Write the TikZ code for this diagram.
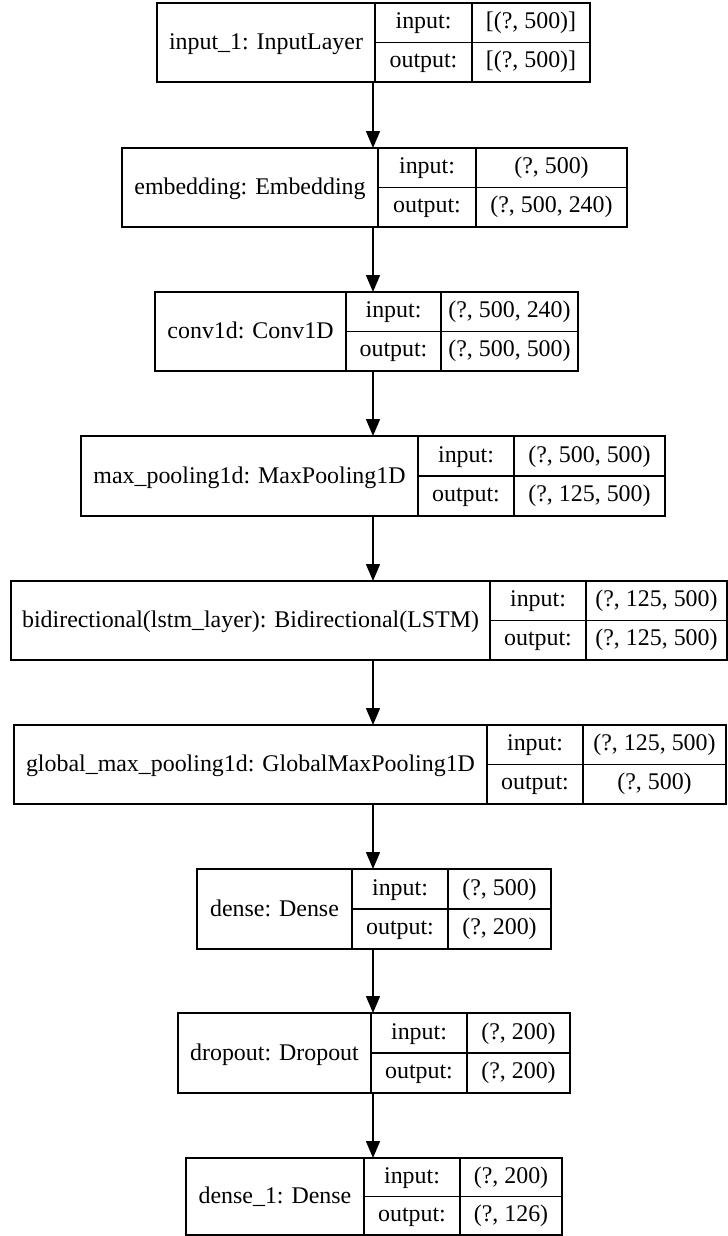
\documentclass[tikz,border=0pt]{standalone}
\usepackage{fontspec}
\setmainfont{Liberation Serif}
\usetikzlibrary{arrows.meta}
\newcommand\pickA[2]{#1}
\newcommand\pickB[2]{#2}
\tikzset{
  frame/.style={draw=black, line width=1.5bp},
  txt/.style={inner sep=0pt, anchor=base, font=\fontsize{24}{28}\selectfont},
  conn/.style={draw=black, line width=1.5bp, -{Triangle[width=14bp,length=17bp]}},
}
% id, left, div1, div2, right, top, bottom, name, {in}{out}
\newcommand\layerbox[9]{%
  \draw[frame] (#2,#6) rectangle (#5,#7);
  \draw[frame] (#3,#6) -- (#3,#7);
  \draw[frame] (#4,#6) -- (#4,#7);
  \draw[frame] (#3,{(#6+#7)/2}) -- (#5,{(#6+#7)/2});
  \node[txt] (#1) at ({(#2+#3)/2},{(#6+#7)/2+7}) {#8};
  \node[txt] (#1-li) at ({(#3+#4)/2},{(3*#6+#7)/4+6}) {input:};
  \node[txt] (#1-lo) at ({(#3+#4)/2},{(#6+3*#7)/4+5.5}) {output:};
  \node[txt] (#1-vi) at ({(#4+#5)/2},{(3*#6+#7)/4+6}) {\pickA#9};
  \node[txt] (#1-vo) at ({(#4+#5)/2},{(#6+3*#7)/4+5.5}) {\pickB#9};
  \coordinate (#1-top) at (373,#6);
  \coordinate (#1-bot) at (373,#7);
}
\begin{document}
\begin{tikzpicture}[x=1bp,y=-1bp]
\useasboundingbox (0,0) rectangle (728,1236);
\layerbox{in1}{157}{375}{472}{590}{3}{82}{input\_1: InputLayer}{{[(?, 500)]}{[(?, 500)]}}
\layerbox{emb}{122}{378}{476}{627}{148}{227}{embedding: Embedding}{{(?, 500)}{(?, 500, 240)}}
\layerbox{conv}{155}{346}{441}{578}{292}{371}{conv1d: Conv1D}{{(?, 500, 240)}{(?, 500, 500)}}
\layerbox{mpool}{81}{418}{514}{665}{436}{516}{max\_pooling1d: MaxPooling1D}{{(?, 500, 500)}{(?, 125, 500)}}
\layerbox{bid}{11}{490}{586}{727}{581}{660}{bidirectional(lstm\_layer): Bidirectional(LSTM)}{{(?, 125, 500)}{(?, 125, 500)}}
\layerbox{gmp}{14}{487}{583}{726}{725}{804}{global\_max\_pooling1d: GlobalMaxPooling1D}{{(?, 125, 500)}{(?, 500)}}
\layerbox{dense}{197}{352}{448}{551}{869}{949}{dense: Dense}{{(?, 500)}{(?, 200)}}
\layerbox{drop}{178}{371}{467}{570}{1013}{1093}{dropout: Dropout}{{(?, 200)}{(?, 200)}}
\layerbox{dense1}{186}{364}{460}{562}{1158}{1235}{dense\_1: Dense}{{(?, 200)}{(?, 126)}}
\draw[conn] (in1-bot) -- (emb-top);
\draw[conn] (emb-bot) -- (conv-top);
\draw[conn] (conv-bot) -- (mpool-top);
\draw[conn] (mpool-bot) -- (bid-top);
\draw[conn] (bid-bot) -- (gmp-top);
\draw[conn] (gmp-bot) -- (dense-top);
\draw[conn] (dense-bot) -- (drop-top);
\draw[conn] (drop-bot) -- (dense1-top);
\end{tikzpicture}
\end{document}
